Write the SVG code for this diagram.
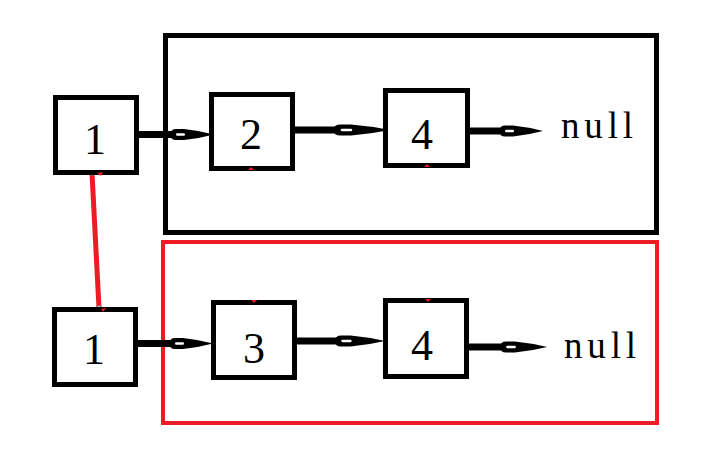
<svg xmlns="http://www.w3.org/2000/svg" xmlns:xlink="http://www.w3.org/1999/xlink" width="710" height="475" viewBox="0 0 710 475">
<style>
.box{fill:#fff;stroke:#000;stroke-width:5}
.num{font-family:"Liberation Serif","Times New Roman",serif;font-size:44px;fill:#000;text-anchor:middle}
.null{font-family:"Liberation Serif","Times New Roman",serif;font-size:37px;fill:#000}
.shaft{stroke:#000;stroke-width:7;fill:none}
.mark{fill:#ed1c24}
.handle{fill:#fff;stroke:#808080;stroke-width:1}
</style>
<defs>
<g id="head">
<path d="M2,-5.5 L10,-5.5 Q26,-3.8 40,0 Q26,3.8 10,5.5 L2,5.5 Q-3.5,5.5 -3.5,0 Q-3.5,-5.5 2,-5.5 Z" fill="#000"/>
<rect x="2" y="-1.2" width="9" height="2.4" rx="1.2" fill="#fff"/>
</g>
</defs>
<rect width="710" height="475" fill="#fff"/>
<g id="group-top">
<rect x="165.5" y="35.5" width="491" height="197" fill="none" stroke="#000" stroke-width="5"/>
</g>
<g id="group-bottom">
<rect x="163" y="242" width="494" height="181" fill="none" stroke="#ed1c24" stroke-width="4"/>
</g>
<g id="connectors">
<line class="shaft" x1="138" y1="134.5" x2="176" y2="134.5"/>
<use xlink:href="#head" transform="translate(174,134.5)"/>
<line class="shaft" x1="294" y1="130" x2="340" y2="130"/>
<use xlink:href="#head" transform="translate(338,130) scale(1.3,1)"/>
<line class="shaft" x1="469" y1="131" x2="506" y2="131"/>
<use xlink:href="#head" transform="translate(503,131)"/>
<line class="shaft" x1="137" y1="343.5" x2="175" y2="343.5"/>
<use xlink:href="#head" transform="translate(173,343.5)"/>
<line class="shaft" x1="296" y1="341" x2="341" y2="341"/>
<use xlink:href="#head" transform="translate(339,341) scale(1.15,1)"/>
<line class="shaft" x1="468" y1="347" x2="506" y2="347"/>
<use xlink:href="#head" transform="translate(504,347) scale(1.08,1)"/>
<line x1="92" y1="173" x2="99" y2="308" stroke="#ed1c24" stroke-width="5"/>
<rect class="handle" x="90" y="171" width="4" height="4"/>
<rect class="handle" x="97" y="306" width="4" height="4"/>
</g>
<g id="n1-top">
<rect class="box" x="55.5" y="97.5" width="81" height="75"/>
<text class="num" x="95" y="154">1</text>
</g>
<g id="n2-top">
<rect class="box" x="211.5" y="94.5" width="81" height="74"/>
<text class="num" x="251" y="149">2</text>
</g>
<g id="n4-top">
<rect class="box" x="385.5" y="90.5" width="82" height="75"/>
<text class="num" x="422" y="149">4</text>
</g>
<g id="null-top">
<text class="null" x="561" y="138" textLength="72" lengthAdjust="spacing">null</text>
</g>
<g id="n1-bottom">
<rect class="box" x="54.5" y="309.5" width="81" height="75"/>
<text class="num" x="94" y="364">1</text>
</g>
<g id="n3-bottom">
<rect class="box" x="213.5" y="302.5" width="81" height="75"/>
<text class="num" x="254" y="363">3</text>
</g>
<g id="n4-bottom">
<rect class="box" x="385.5" y="300.5" width="81" height="76"/>
<text class="num" x="422" y="360">4</text>
</g>
<g id="null-bottom">
<text class="null" x="564" y="358" textLength="72" lengthAdjust="spacing">null</text>
</g>
<g id="marks">
<path class="mark" d="M97,173 L103,172 L101,176 Z"/>
<path class="mark" d="M101,309 L106,308 L103,312 Z"/>
<path class="mark" d="M248,170 L251,167 L254,170 Z"/>
<path class="mark" d="M424,167 L427,164 L430,167 Z"/>
<path class="mark" d="M251,300 L257,300 L254,303 Z"/>
<path class="mark" d="M425,299 L431,299 L428,302 Z"/>
</g>
</svg>
